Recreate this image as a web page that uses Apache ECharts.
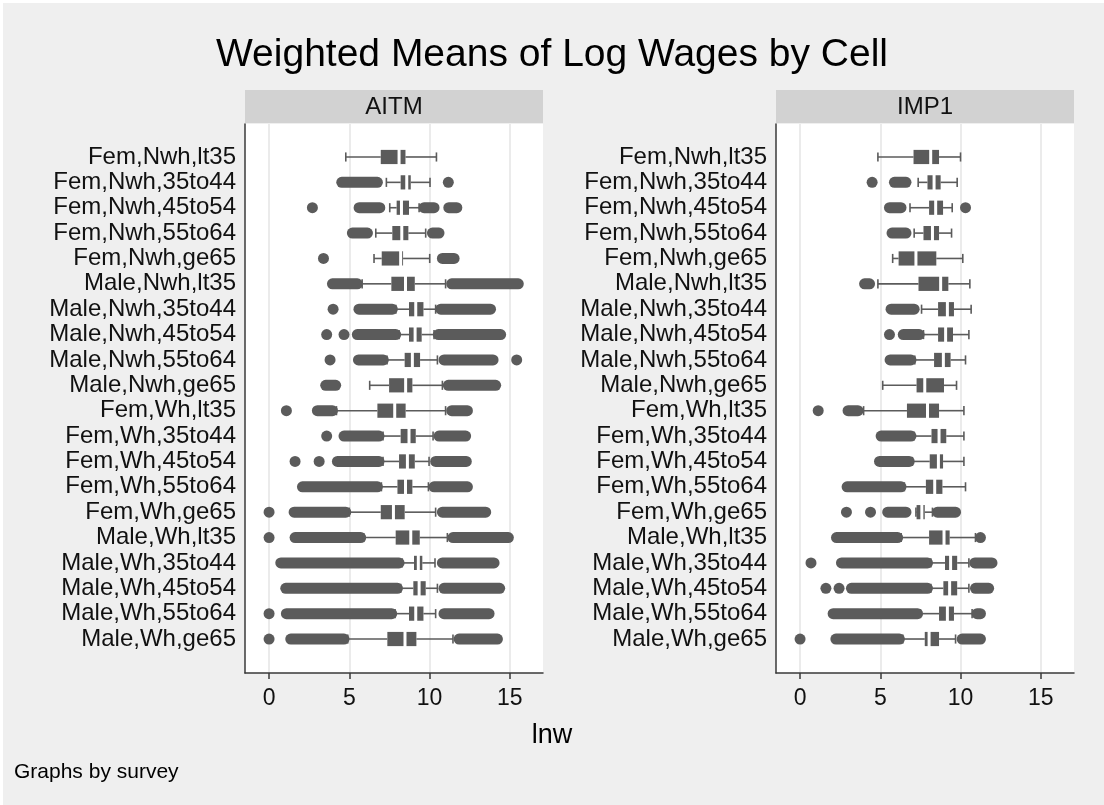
<!DOCTYPE html>
<html>
<head>
<meta charset="utf-8">
<script src="https://cdn.jsdelivr.net/npm/echarts@6/dist/echarts.min.js"></script>
<style>
html, body { margin: 0; padding: 0; background: #fff; }
#chart { width: 1104px; height: 805px; }
</style>
</head>
<body>
<div id="chart"></div>
<script>
// cells, top to bottom
var cells = [
  'Fem,Nwh,lt35', 'Fem,Nwh,35to44', 'Fem,Nwh,45to54', 'Fem,Nwh,55to64', 'Fem,Nwh,ge65',
  'Male,Nwh,lt35', 'Male,Nwh,35to44', 'Male,Nwh,45to54', 'Male,Nwh,55to64', 'Male,Nwh,ge65',
  'Fem,Wh,lt35', 'Fem,Wh,35to44', 'Fem,Wh,45to54', 'Fem,Wh,55to64', 'Fem,Wh,ge65',
  'Male,Wh,lt35', 'Male,Wh,35to44', 'Male,Wh,45to54', 'Male,Wh,55to64', 'Male,Wh,ge65'
];
var xTicks = [0, 5, 10, 15];

// AITM: whiskers, quartiles, median (lnw)
var aitmLower  = [4.78, 7.31, 7.52, 6.65, 6.54, 5.8, 7.9, 8.1, 7.35, 6.27, 4.2, 7.1, 7.1, 7.0, 5.0, 5.9, 8.3, 8.2, 7.85, 4.9];
var aitmQ1     = [6.96, 8.2, 7.95, 7.68, 7.02, 7.62, 8.72, 8.72, 8.45, 7.48, 6.75, 8.2, 8.1, 8.0, 6.96, 7.89, 9.03, 8.99, 8.72, 7.37];
var aitmMedian = [8.1, 8.58, 8.25, 8.27, 8.2, 8.5, 9.14, 9.1, 8.93, 8.51, 7.83, 8.72, 8.62, 8.5, 7.75, 8.83, 9.3, 9.35, 9.14, 8.47];
var aitmQ3     = [8.5, 8.83, 8.72, 8.68, 8.35, 9.08, 9.62, 9.51, 9.41, 8.93, 8.51, 9.14, 9.08, 8.93, 8.45, 9.39, 9.55, 9.76, 9.62, 9.18];
var aitmUpper  = [10.43, 10.03, 9.35, 9.76, 10.01, 11.0, 10.38, 10.28, 10.49, 10.8, 11.0, 10.22, 9.97, 9.93, 10.38, 11.11, 10.34, 10.49, 10.38, 11.46];
// outside values, as runs of overlapping dots [from, to]
var aitmOutliers = [
  [],
  [[4.53, 6.75], [11.17, 11.17]],
  [[2.7, 2.7], [5.61, 6.9], [9.66, 10.28], [11.2, 11.7]],
  [[5.19, 6.13], [10.18, 10.59]],
  [[3.39, 3.39], [10.8, 11.53]],
  [[3.95, 5.5], [11.38, 15.53]],
  [[3.99, 3.99], [5.6, 7.68], [10.7, 13.8]],
  [[3.59, 3.59], [4.67, 4.67], [5.5, 7.89], [10.55, 14.43]],
  [[3.8, 3.8], [5.57, 7.12], [10.9, 13.96], [15.43, 15.43]],
  [[3.53, 4.15], [11.17, 14.12]],
  [[1.08, 1.08], [3.01, 3.95], [11.38, 12.36]],
  [[3.59, 3.59], [4.67, 6.85], [10.59, 12.25]],
  [[1.62, 1.62], [3.12, 3.12], [4.26, 6.85], [10.38, 12.29]],
  [[2.08, 6.75], [10.28, 12.36]],
  [[0, 0], [1.56, 4.78], [10.8, 13.5]],
  [[0, 0], [1.62, 5.71], [11.46, 14.91]],
  [[0.73, 8.1], [10.8, 14.02]],
  [[1.04, 8.0], [10.9, 14.37]],
  [[0, 0], [1.08, 7.64], [10.9, 13.71]],
  [[0, 0], [1.35, 4.67], [11.84, 14.23]]
];

// IMP1
var imp1Lower  = [4.85, 7.36, 6.85, 7.11, 5.77, 4.85, 7.57, 7.69, 7.15, 5.15, 3.96, 7.1, 7.0, 6.5, 7.22, 6.3, 8.15, 8.15, 7.5, 6.4];
var imp1Q1     = [7.07, 7.94, 8.04, 7.69, 6.14, 7.38, 8.6, 8.6, 8.35, 7.26, 6.66, 8.19, 8.08, 7.84, 7.26, 8.04, 9.03, 8.93, 8.66, 7.77];
var imp1Median = [8.14, 8.35, 8.45, 8.25, 7.22, 8.76, 9.18, 9.07, 8.93, 7.77, 7.94, 8.66, 8.62, 8.39, 7.59, 8.97, 9.38, 9.32, 9.18, 8.04];
var imp1Q3     = [8.66, 8.76, 8.91, 8.66, 8.49, 9.24, 9.59, 9.53, 9.38, 8.97, 8.66, 9.11, 8.91, 8.87, 7.77, 9.32, 9.79, 9.79, 9.59, 8.66];
var imp1Upper  = [10.0, 9.79, 9.48, 9.44, 10.14, 10.58, 10.66, 10.52, 10.31, 9.75, 10.21, 10.21, 10.21, 10.31, 8.25, 10.93, 10.52, 10.52, 10.72, 9.69];
var imp1Outliers = [
  [],
  [[4.49, 4.49], [5.88, 6.6]],
  [[5.57, 6.29], [10.31, 10.31]],
  [[5.73, 6.6]],
  [],
  [[4.02, 4.33]],
  [[5.67, 7.11]],
  [[5.57, 5.57], [6.43, 7.42]],
  [[5.61, 6.91]],
  [],
  [[1.13, 1.13], [2.99, 3.61]],
  [[5.05, 6.91]],
  [[4.95, 6.8]],
  [[2.93, 6.29]],
  [[2.89, 2.89], [4.39, 4.39], [5.46, 6.6], [8.56, 9.69]],
  [[2.27, 6.08], [11.24, 11.24]],
  [[0.68, 0.68], [2.58, 7.94], [10.89, 11.96]],
  [[1.61, 1.61], [2.43, 2.43], [3.2, 7.94], [10.93, 11.75]],
  [[2.06, 7.32], [11.03, 11.24]],
  [[0, 0], [2.23, 6.19], [10.1, 11.24]]
];

var FONT = '"Liberation Sans", Arial, sans-serif';
var MARK = '#5b5b5b';
var AXIS = '#3a3a3a';

var PLOT_TOP = 124, PLOT_H = 549, PLOT_W = 298;
var XMIN = -1.5, XMAX = 17.07;
var PX = PLOT_W / (XMAX - XMIN);
var ROW_TOP = 144.3, ROW_H = 507.4;

var panels = [
  { name: 'AITM', left: 245, lower: aitmLower, q1: aitmQ1, med: aitmMedian, q3: aitmQ3, upper: aitmUpper, out: aitmOutliers },
  { name: 'IMP1', left: 776, lower: imp1Lower, q1: imp1Q1, med: imp1Median, q3: imp1Q3, upper: imp1Upper, out: imp1Outliers }
];

function renderBox(params, api) {
  var row = api.value(0);
  var lo = api.coord([api.value(1), row]);
  var q1 = api.coord([api.value(2), row]);
  var md = api.coord([api.value(3), row]);
  var q3 = api.coord([api.value(4), row]);
  var hi = api.coord([api.value(5), row]);
  var band = api.size([0, 1])[1];
  var h = band * 0.56, cap = band * 0.36, y = md[1];
  var line = { stroke: MARK, lineWidth: 1.6 };
  return {
    type: 'group',
    children: [
      { type: 'line', shape: { x1: lo[0], y1: y, x2: q1[0], y2: y }, style: line },
      { type: 'line', shape: { x1: q3[0], y1: y, x2: hi[0], y2: y }, style: line },
      { type: 'line', shape: { x1: lo[0], y1: y - cap / 2, x2: lo[0], y2: y + cap / 2 }, style: line },
      { type: 'line', shape: { x1: hi[0], y1: y - cap / 2, x2: hi[0], y2: y + cap / 2 }, style: line },
      { type: 'rect', shape: { x: q1[0], y: y - h / 2, width: Math.max(0, md[0] - 1.5 - q1[0]), height: h }, style: { fill: MARK } },
      { type: 'rect', shape: { x: md[0] + 1.5, y: y - h / 2, width: Math.max(0, q3[0] - md[0] - 1.5), height: h }, style: { fill: MARK } }
    ]
  };
}

function renderOutlier(params, api) {
  var row = api.value(0);
  var a = api.coord([api.value(1), row]);
  var b = api.coord([api.value(2), row]);
  var r = 5.5;
  return {
    type: 'rect',
    shape: { x: a[0] - r, y: a[1] - r, width: b[0] - a[0] + 2 * r, height: 2 * r, r: r },
    style: { fill: MARK }
  };
}

var grids = [], xAxes = [], yAxes = [], series = [], graphics = [];

graphics.push({ type: 'rect', shape: { x: 0, y: 0, width: 1104, height: 3 }, style: { fill: '#fff' }, silent: true });
graphics.push({ type: 'rect', shape: { x: 0, y: 0, width: 3, height: 805 }, style: { fill: '#fff' }, silent: true });

panels.forEach(function (p, i) {
  var g = i * 3;
  // frame: white plot region with left and bottom axis lines
  grids.push({ left: p.left, top: PLOT_TOP, width: PLOT_W, height: PLOT_H, show: true, backgroundColor: '#fff', borderWidth: 0, z: 0 });
  xAxes.push({
    gridIndex: g, type: 'value', min: 0, max: 1, z: 3,
    axisLine: { show: true, onZero: false, lineStyle: { color: AXIS, width: 1.5 } },
    axisTick: { show: false }, axisLabel: { show: false }, splitLine: { show: false }
  });
  yAxes.push({
    gridIndex: g, type: 'value', min: 0, max: 1, z: 3,
    axisLine: { show: true, onZero: false, lineStyle: { color: AXIS, width: 1.5 } },
    axisTick: { show: false }, axisLabel: { show: false }, splitLine: { show: false }
  });

  // ticks, labels and grid lines at 0, 5, 10, 15
  grids.push({ left: p.left + (xTicks[0] - XMIN) * PX, top: PLOT_TOP, width: (xTicks[xTicks.length - 1] - xTicks[0]) * PX, height: PLOT_H });
  xAxes.push({
    gridIndex: g + 1, type: 'value', min: xTicks[0], max: xTicks[xTicks.length - 1], interval: 5, z: 1,
    axisLine: { show: false },
    axisTick: { show: true, length: 6, lineStyle: { color: AXIS, width: 1.5 } },
    axisLabel: { fontSize: 23, color: '#111', margin: 14, fontFamily: FONT },
    splitLine: { show: true, lineStyle: { color: '#e4e4e4', width: 1.5 } }
  });
  yAxes.push({ gridIndex: g + 1, type: 'value', show: false, splitLine: { show: false } });

  // data region: one band per cell
  grids.push({ left: p.left, top: ROW_TOP, width: PLOT_W, height: ROW_H });
  xAxes.push({ gridIndex: g + 2, type: 'value', min: XMIN, max: XMAX, show: false, splitLine: { show: false } });
  yAxes.push({
    gridIndex: g + 2, type: 'category', data: cells, inverse: true,
    axisLine: { show: false }, axisTick: { show: false },
    axisLabel: { interval: 0, fontSize: 24, color: '#111', margin: 9, fontFamily: FONT }
  });

  var boxData = cells.map(function (c, k) {
    return [k, p.lower[k], p.q1[k], p.med[k], p.q3[k], p.upper[k]];
  });
  var outData = [];
  p.out.forEach(function (runs, k) {
    runs.forEach(function (run) { outData.push([k, run[0], run[1]]); });
  });

  series.push({
    type: 'custom', name: p.name + ' outside', xAxisIndex: g + 2, yAxisIndex: g + 2, silent: true,
    renderItem: renderOutlier, encode: { x: [1, 2], y: 0 }, data: outData, z: 4
  });
  series.push({
    type: 'custom', name: p.name, xAxisIndex: g + 2, yAxisIndex: g + 2, silent: true,
    renderItem: renderBox, encode: { x: [1, 2, 3, 4, 5], y: 0 }, data: boxData, z: 5
  });

  // panel strip
  graphics.push({
    type: 'group', silent: true,
    children: [
      { type: 'rect', shape: { x: p.left, y: 90, width: PLOT_W, height: 33 }, style: { fill: '#d2d2d2' } },
      { type: 'text', x: p.left + PLOT_W / 2, y: 107, style: { text: p.name, fill: '#111', font: '24px ' + FONT, textAlign: 'center', textVerticalAlign: 'middle' } }
    ]
  });
});

var chart = echarts.init(document.getElementById('chart'), null, { renderer: 'canvas' });
chart.setOption({
  backgroundColor: '#efefef',
  animation: false,
  title: [
    { text: 'Weighted Means of Log Wages by Cell', left: 'center', top: 36, padding: 0,
      textStyle: { fontSize: 39, fontWeight: 'normal', color: '#000', fontFamily: FONT } },
    { text: 'lnw', left: 'center', top: 722, padding: 0,
      textStyle: { fontSize: 27, fontWeight: 'normal', color: '#000', fontFamily: FONT } },
    { text: 'Graphs by survey', left: 14, top: 762, padding: 0,
      textStyle: { fontSize: 21, fontWeight: 'normal', color: '#000', fontFamily: FONT } }
  ],
  grid: grids,
  xAxis: xAxes,
  yAxis: yAxes,
  series: series,
  graphic: graphics
});
</script>
</body>
</html>
